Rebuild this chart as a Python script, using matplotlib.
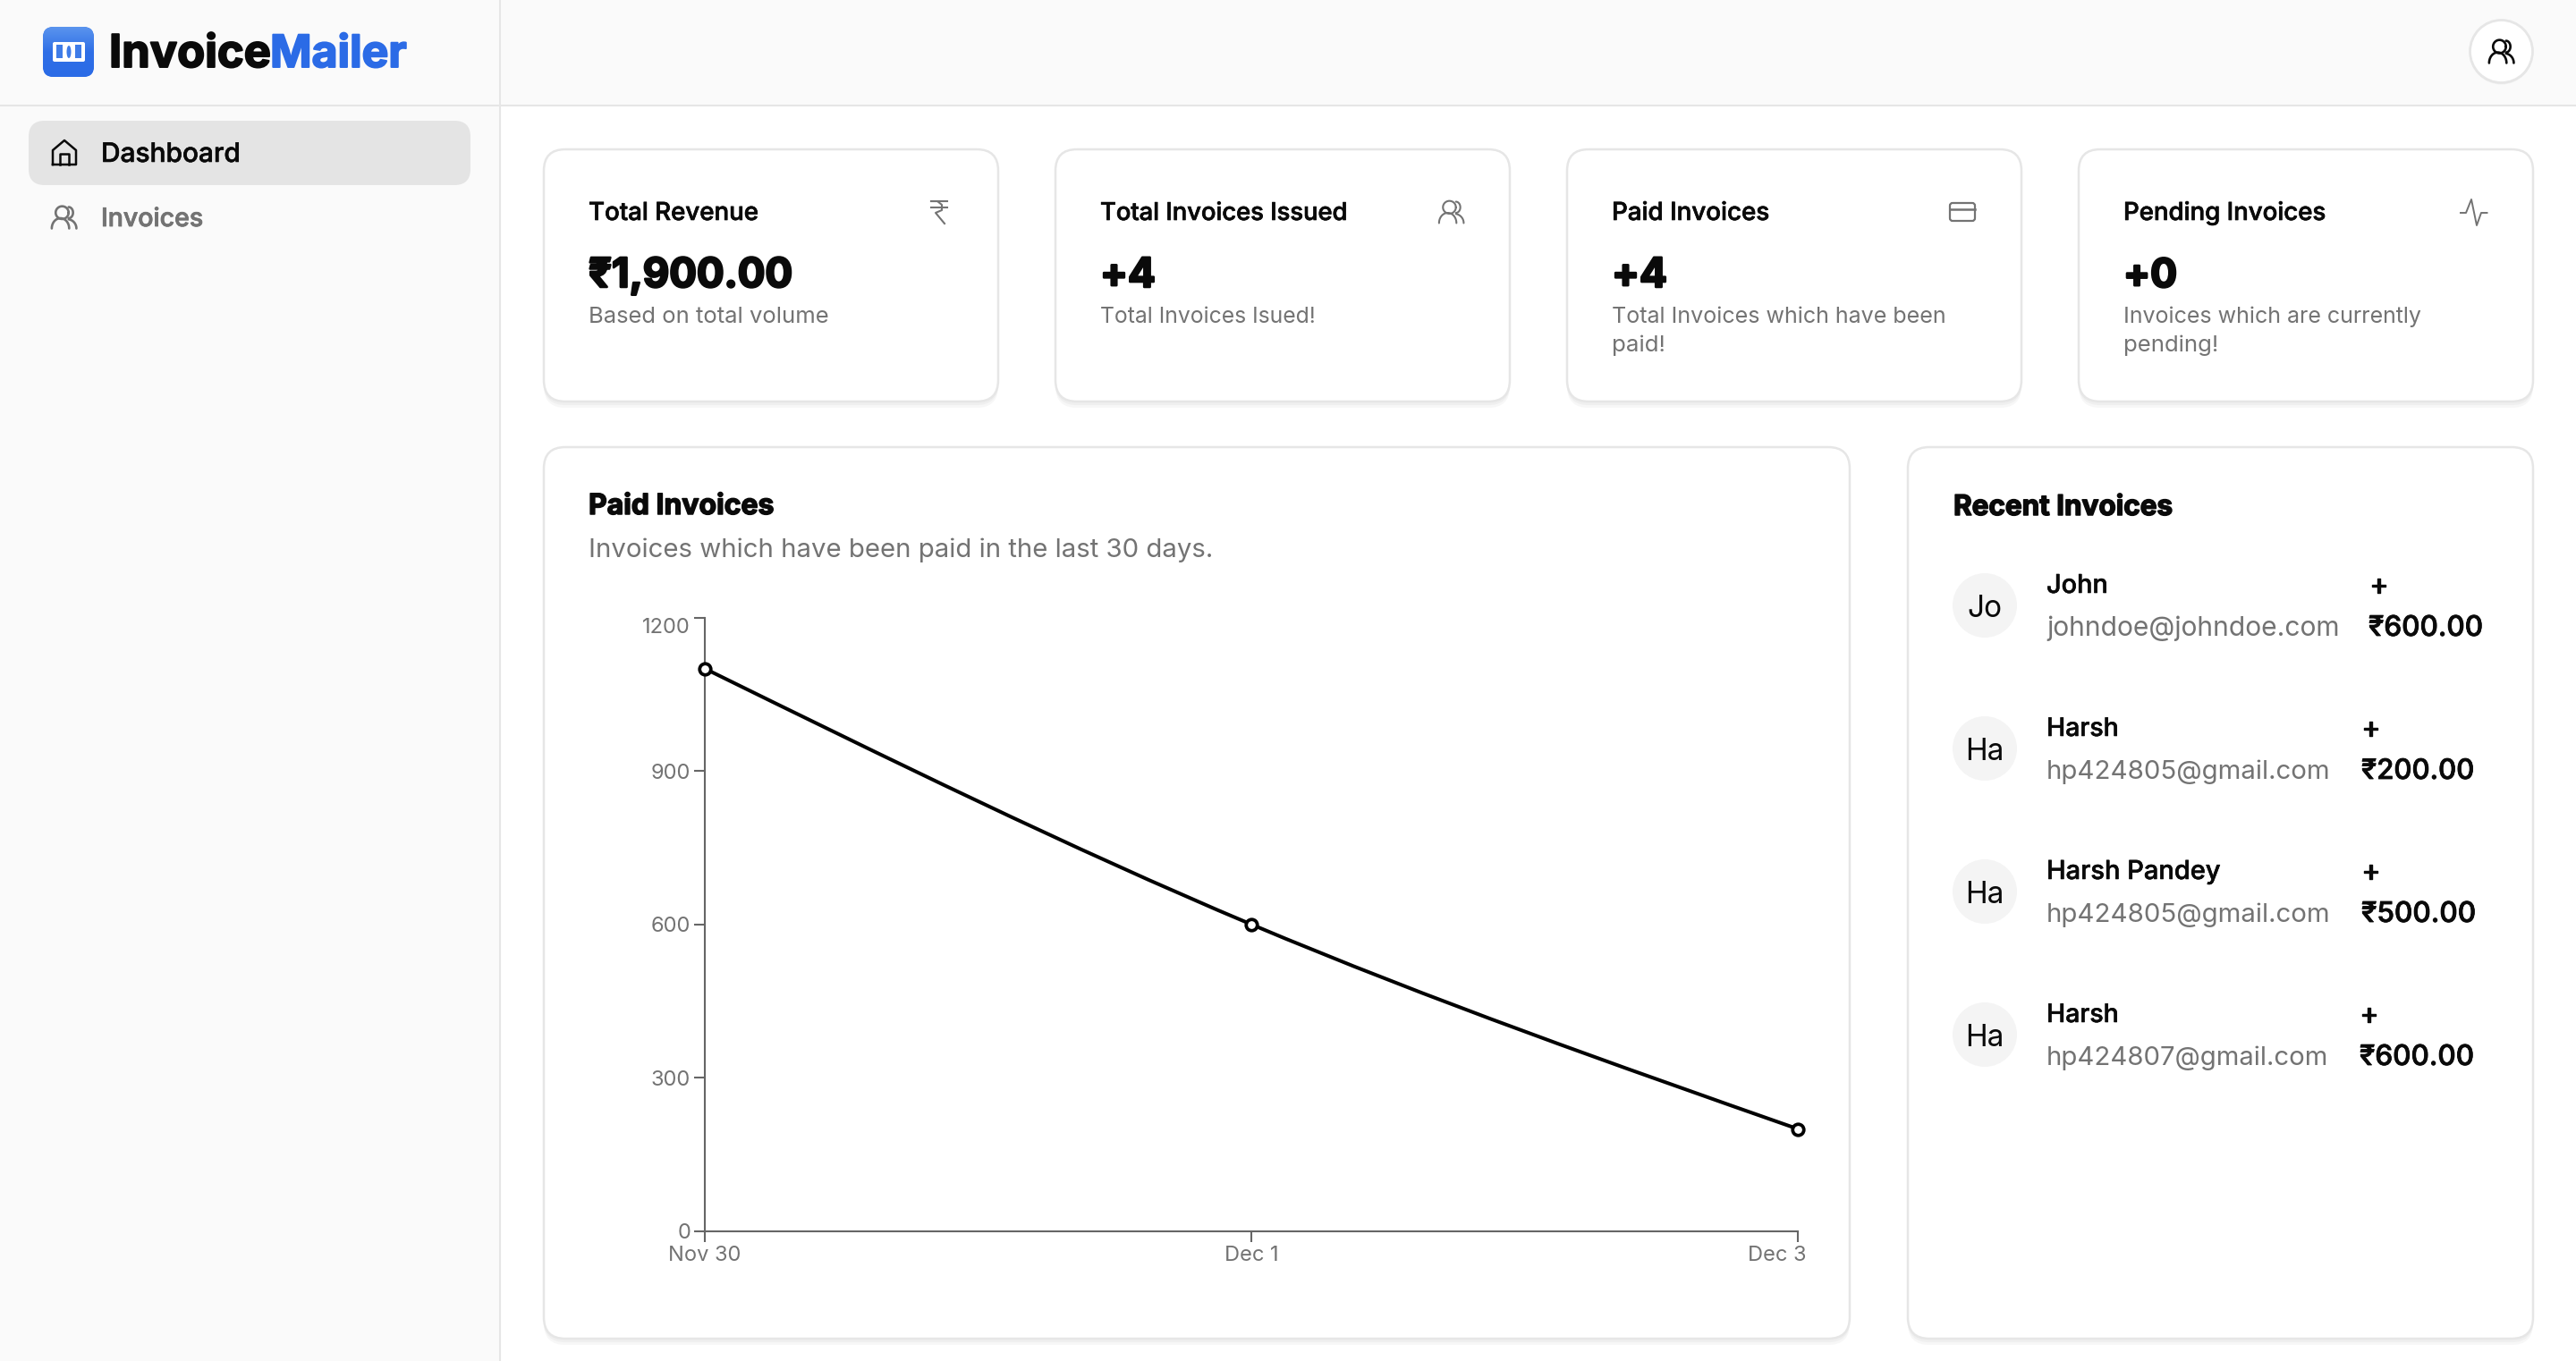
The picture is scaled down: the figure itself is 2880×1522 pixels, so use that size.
import numpy as np
import matplotlib
matplotlib.use("Agg")
import matplotlib.pyplot as plt
import matplotlib.patheffects as pe
from matplotlib.colors import LinearSegmentedColormap
from matplotlib.patches import Ellipse, FancyBboxPatch, Circle, PathPatch
from matplotlib.path import Path
from matplotlib.transforms import ScaledTranslation

plt.rcParams['font.family'] = ['Inter', 'DejaVu Sans']

# chart data
dates = ["Nov 30", "Dec 1", "Dec 3"]
paid_amounts = [1100, 600, 200]
y_ticks = [0, 300, 600, 900, 1200]

# stat cards
card_titles = ["Total Revenue", "Total Invoices Issued", "Paid Invoices", "Pending Invoices"]
card_values = ["₹1,900.00", "+4", "+4", "+0"]
card_notes = [["Based on total volume"], ["Total Invoices Isued!"],
              ["Total Invoices which have been", "paid!"],
              ["Invoices which are currently", "pending!"]]

# recent invoices
recent_initials = ["Jo", "Ha", "Ha", "Ha"]
recent_names = ["John", "Harsh", "Harsh Pandey", "Harsh"]
recent_emails = ["johndoe@johndoe.com", "hp424805@gmail.com", "hp424805@gmail.com", "hp424807@gmail.com"]
recent_amounts = ["₹600.00", "₹200.00", "₹500.00", "₹600.00"]

INK = "#0a0a0a"
MUTED = "#737373"
BORDER = "#e6e6e6"
BLUE = "#2b6be6"

fig = plt.figure(figsize=(28.8, 15.22), dpi=100, facecolor="white")
bg = fig.add_axes([0, 0, 1, 1])
bg.axis("off")
renderer = fig.canvas.get_renderer()


def label(x, y, s, width=None, size=20, weight="normal", color=INK, thick=0, z=5):
    # width is in pixels, font size gets scaled so the text fills it
    t = bg.text(x, y, s, fontsize=size, fontweight=weight, color=color, ha="left", va="baseline", zorder=z)
    if width is not None:
        w = t.get_window_extent(renderer).width
        t.set_fontsize(size * width / w)
    if thick:
        # Inter is lighter than the original face, fatten it a little
        t.set_path_effects([pe.withStroke(linewidth=thick, foreground=color)])
    return t


def rounded(x0, y0, x1, y1, r, face, edge="none", lw=0, z=1):
    p = FancyBboxPatch((x0 + r, y0 + r), x1 - x0 - 2 * r, y1 - y0 - 2 * r,
                       boxstyle=f"round,pad={r},rounding_size={r}",
                       facecolor=face, edgecolor=edge, linewidth=lw, zorder=z)
    bg.add_patch(p)
    return p


def card(x0, y0, x1, y1):
    rounded(x0, y0 + 7, x1, y1 + 7, 24, "#f7f7f7", z=1)
    rounded(x0, y0 + 4, x1, y1 + 4, 24, "#efefef", z=1)
    rounded(x0, y0, x1, y1, 24, "white", BORDER, 1.8, z=2)


def users_icon(x0, y0, x1, y1, color, lw=1.6):
    w = x1 - x0
    h = y1 - y0
    kw = dict(color=color, lw=lw, solid_capstyle="round", zorder=6)

    def arc(cx, cy, rx, ry, a0, a1):
        a = np.radians(np.linspace(a0, a1, 30))
        bg.plot(x0 + w * (cx + rx * np.cos(a)), y0 + h * (cy + ry * np.sin(a)), **kw)

    arc(0.43, 0.30, 0.25, 0.275, 0, 360)     # head
    arc(0.365, 0.98, 0.335, 0.44, 180, 360)  # body
    arc(0.68, 0.30, 0.17, 0.24, -90, 90)     # second head
    arc(0.62, 0.98, 0.36, 0.40, -80, 0)      # second body


def monotone_path(xs, ys):
    # same shape a monotone-x line gets in the original chart
    xs = np.asarray(xs, float)
    ys = np.asarray(ys, float)
    h = np.diff(xs)
    s = np.diff(ys) / h
    m = np.zeros_like(ys)
    for i in range(1, len(xs) - 1):
        p = (s[i - 1] * h[i] + s[i] * h[i - 1]) / (h[i - 1] + h[i])
        m[i] = (np.sign(s[i - 1]) + np.sign(s[i])) * min(abs(s[i - 1]), abs(s[i]), 0.5 * abs(p))
    m[0] = (3 * s[0] - m[1]) / 2
    m[-1] = (3 * s[-1] - m[-2]) / 2
    verts = [(xs[0], ys[0])]
    codes = [Path.MOVETO]
    for i in range(len(h)):
        d = h[i] / 3
        verts += [(xs[i] + d, ys[i] + m[i] * d), (xs[i + 1] - d, ys[i + 1] - m[i + 1] * d), (xs[i + 1], ys[i + 1])]
        codes += [Path.CURVE4] * 3
    return Path(verts, codes)


# page background
bg.add_patch(plt.Rectangle((0, 0), 559, 1522, facecolor="#fafafa", edgecolor="none", zorder=0))
bg.add_patch(plt.Rectangle((559, 0), 2321, 118, facecolor="#fafafa", edgecolor="none", zorder=0))
bg.plot([559, 559], [0, 1522], color=BORDER, lw=1.5, zorder=1)
bg.plot([0, 2880], [118, 118], color=BORDER, lw=1.5, zorder=1)

# logo
grad = np.linspace(0, 1, 60).reshape(-1, 1)
clip = rounded(48, 30, 105, 86, 12, BLUE, z=2)
img = bg.imshow(grad, extent=(48, 105, 86, 30), aspect="auto", zorder=2,
                cmap=LinearSegmentedColormap.from_list("logo", ["#5a94ee", "#2f6fe6", "#2b6be6"]))
img.set_clip_path(clip)
rounded(59, 47, 95, 69, 2, "white", z=3)
bg.add_patch(plt.Rectangle((63, 50), 7, 15, facecolor="#3f7ce8", edgecolor="none", zorder=4))
bg.add_patch(plt.Rectangle((84, 50), 7, 15, facecolor="#3f7ce8", edgecolor="none", zorder=4))
bg.add_patch(Ellipse((77, 58), 5, 14, facecolor="#3f7ce8", edgecolor="none", zorder=4))
label(122, 75, "Invoice", 181, 30, "bold", INK, thick=1.4)
label(302, 75, "Mailer", 153, 30, "bold", BLUE, thick=1.4)

# sidebar
rounded(32, 135, 526, 207, 18, "#e4e4e4", z=2)
label(113, 181, "Dashboard", 156, 22, "medium", INK, thick=0.4)
label(113, 253, "Invoices", 114, 22, "medium", MUTED, thick=0.6)
bg.plot([59, 59, 72, 85, 85, 59], [184, 168, 157, 168, 184, 184], color=INK, lw=1.8, zorder=4, solid_joinstyle="round")
bg.plot([67, 67, 77, 77], [184, 172, 172, 184], color=INK, lw=1.8, zorder=4)
users_icon(57, 230, 86, 256, MUTED, 1.9)

# top right avatar button
bg.add_patch(Circle((2796.5, 59), 35.5, facecolor="#f2f2f2", edgecolor="none", zorder=2))
bg.add_patch(Circle((2796.5, 57.5), 35, facecolor="white", edgecolor=BORDER, lw=2, zorder=3))
users_icon(2782, 44, 2811, 71, INK, 1.9)

# stat cards
card_boxes = [(608, 1116), (1180, 1688), (1752, 2260), (2324, 2832)]
text_x = [658, 1230, 1802, 2374]
title_widths = [190, 276, 176, 226]
value_widths = [228, 62, 62, 60]
note_widths = [[268], [241], [373, 60], [333, 106]]
for i in range(4):
    x0, x1 = card_boxes[i]
    card(x0, 167, x1, 449)
    label(text_x[i], 246, card_titles[i], title_widths[i], 20, "medium", INK, thick=0.5)
    label(text_x[i], 321, card_values[i], value_widths[i], 36, "bold", INK, thick=1.8)
    for j, note in enumerate(card_notes[i]):
        label(text_x[i], 361 + 32 * j, note, note_widths[i][j], 18, "normal", MUTED)

# card icons
bg.plot([1041, 1059], [225, 225], color=MUTED, lw=1.5, zorder=5)
bg.plot([1041, 1059], [232, 232], color=MUTED, lw=1.5, zorder=5)
bg.plot([1041, 1048, 1053, 1053, 1046, 1056], [225, 225, 229, 235, 238, 250], color=MUTED, lw=1.5, zorder=5)
users_icon(1608, 224, 1637, 250, MUTED, 1.5)
rounded(2180, 227, 2208, 247, 3, "none", MUTED, 1.6, z=5)
bg.plot([2180, 2208], [234, 234], color=MUTED, lw=1.8, zorder=5)
bg.plot([2751, 2757, 2763, 2769, 2774, 2780.5], [238, 238, 223, 252, 238, 238], color=MUTED, lw=1.4, zorder=5)

# chart card
card(608, 500, 2068, 1497)
label(658, 575, "Paid Invoices", 208, 24, "bold", INK, thick=1.1)
label(658, 623, "Invoices which have been paid in the last 30 days.", 698, 20, "normal", MUTED)

ax = fig.add_axes([788 / 2880, 1 - 1376.9 / 1522, (2010 - 788) / 2880, (1376.9 - 690.5) / 1522])
ax.patch.set_alpha(0)
ax.set_xlim(0, len(dates) - 1)
ax.set_ylim(0, 1200)
for side in ["top", "right"]:
    ax.spines[side].set_visible(False)
for side in ["left", "bottom"]:
    ax.spines[side].set_color("#666666")
    ax.spines[side].set_linewidth(1.5)
ax.set_xticks(range(len(dates)))
ax.set_xticklabels(dates)
ax.set_yticks(y_ticks)
ax.tick_params(axis="both", length=8.5, width=1.5, color="#666666", labelcolor=MUTED, labelsize=17, pad=3)
# the original keeps the first and last labels inside the plot box
ax.get_yticklabels()[-1].set_verticalalignment("top")
last = ax.get_xticklabels()[-1]
last.set_horizontalalignment("right")
last.set_transform(last.get_transform() + ScaledTranslation(9 / 100, 0, fig.dpi_scale_trans))
xpos = list(range(len(dates)))
ax.add_patch(PathPatch(monotone_path(xpos, paid_amounts), facecolor="none", edgecolor="black", lw=2.9, clip_on=False, zorder=3))
ax.plot(xpos, paid_amounts, linestyle="none", marker="o", markersize=9, markerfacecolor="white",
        markeredgecolor="black", markeredgewidth=2.7, clip_on=False, zorder=4)

# recent invoices
card(2133, 500, 2832, 1497)
label(2184, 576, "Recent Invoices", 246, 24, "bold", INK, thick=1.1)
name_widths = [69, 81, 195, 81]
email_widths = [328, 318, 318, 316]
plus_x = [2649, 2640, 2640, 2638]
amount_x = [2648, 2640, 2640, 2638]
amount_widths = [128, 126, 128, 128]
for i in range(4):
    off = 160 * i
    bg.add_patch(Circle((2219, 677 + off), 36, facecolor="#f4f4f4", edgecolor="none", zorder=4))
    bg.text(2219, 677 + off, recent_initials[i], fontsize=24, color=INK, ha="center", va="center_baseline", zorder=5)
    label(2288, 663 + off, recent_names[i], name_widths[i], 22, "medium", INK, thick=0.4)
    label(2288, 711 + off, recent_emails[i], email_widths[i], 22, "normal", MUTED)
    label(plus_x[i], 664 + off, "+", 21, 28, "medium", INK, thick=1.0)
    label(amount_x[i], 711 + off, recent_amounts[i], amount_widths[i], 24, "medium", INK, thick=0.6)

bg.set_xlim(0, 2880)
bg.set_ylim(1522, 0)
bg.set_zorder(0)
ax.set_zorder(2)

fig.savefig("out.png", dpi=100)
